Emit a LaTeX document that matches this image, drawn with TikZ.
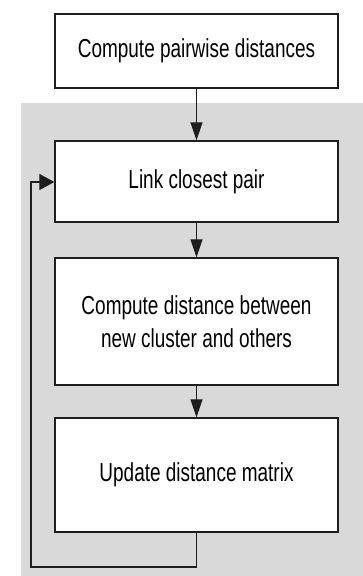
\documentclass[tikz,border=0pt]{standalone}
\usepackage{fontspec}
\setmainfont[FakeStretch=0.73]{Liberation Sans}
\usetikzlibrary{arrows.meta,calc}
\definecolor{panelgray}{RGB}{217,217,217}
\definecolor{edgeblack}{RGB}{30,30,30}
\begin{document}
\begin{tikzpicture}[x=1pt,y=-1pt,
  stepbox/.style={draw=edgeblack,line width=1.3pt,fill=white,minimum width=283pt,align=center,
    font=\fontsize{26}{33}\selectfont,inner sep=0pt},
  flow/.style={draw=edgeblack,line width=1.1pt,-{Triangle[length=18pt,width=12pt]}},
  loopflow/.style={draw=edgeblack,line width=1.1pt,-{Triangle[length=15pt,width=16pt]}}]
\useasboundingbox (0,0) rectangle (363,576);
\fill[white] (0,0) rectangle (363,576);
\fill[panelgray] (21,103) rectangle (363,576);
\node[stepbox,minimum height=74pt] (pw) at (196.5,51) {Compute pairwise distances};
\node[stepbox,minimum height=81pt] (link) at (196.5,181.5) {Link closest pair};
\node[stepbox,minimum height=127pt] (cd) at (196.5,321.5) {Compute distance between\\new cluster and others};
\node[stepbox,minimum height=114pt] (upd) at (196.5,475) {Update distance matrix};
\coordinate (lb) at (196.5,567);
\coordinate (ll) at (31,567);
\coordinate (lt) at (31,182);
\draw[flow] (pw) -- (link);
\draw[flow] (link) -- (cd);
\draw[flow] (cd) -- (upd);
\draw[loopflow] (upd.south) -- (lb) -- (ll) -- (lt) -- (link.west |- lt);
\end{tikzpicture}
\end{document}
